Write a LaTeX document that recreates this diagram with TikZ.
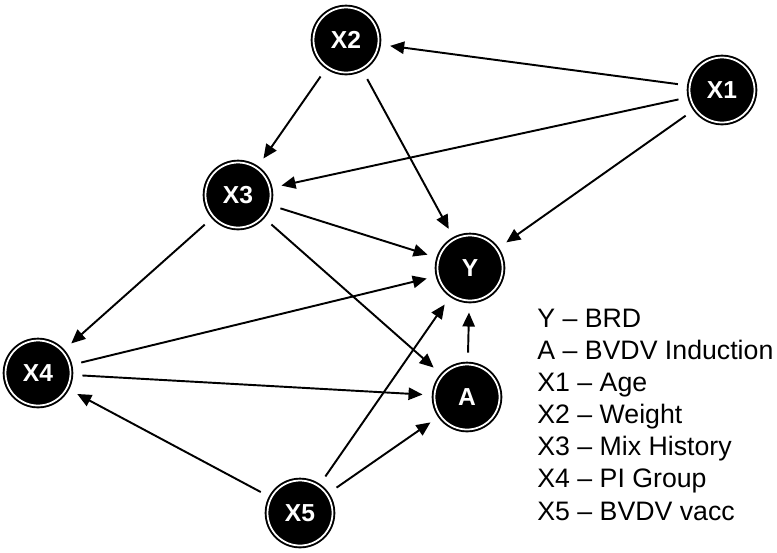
\documentclass[tikz,border=0pt]{standalone}
\usepackage{fontspec}
\setmainfont{Liberation Sans}
\usetikzlibrary{arrows.meta}

\tikzset{
	var/.style={circle, fill=black, draw=black, double=white,
		double distance=1pt, line width=1.1pt, minimum size=1.3cm,
		inner sep=0pt, outer sep=.24cm, text=white,
		font=\fontsize{14}{16}\selectfont\bfseries},
	edge/.style={-{Triangle[length=8pt,width=7pt]}, line width=1.1pt}
}

\begin{document}
\begin{tikzpicture}[x=.02cm, y=-.02cm]
		\useasboundingbox (0, 0) rectangle (777, 552);

		\node[var] (x1) at (722, 90) {X1};
		\node[var] (x2) at (346, 40) {X2};
		\node[var] (x3) at (238, 195) {X3};
		\node[var] (x4) at (38, 373) {X4};
		\node[var] (x5) at (300, 513) {X5};
		\node[var] (y) at (470, 268) {Y};
		\node[var] (a) at (467, 397) {A};

		\foreach \s/\t in {x1/x2, x1/x3, x1/y, x2/x3, x2/y, x3/y, x3/x4,
			x3/a, x4/y, x4/a, x5/x4, x5/y, x5/a, a/y}
		\draw[edge] (\s) -- (\t);

		\node[anchor=base west, align=left, inner sep=0pt,
			font=\fontsize{15.2}{18.3}\selectfont] (legend) at (537, 520)
			{Y -- BRD\\ A -- BVDV Induction\\ X1 -- Age\\ X2 -- Weight\\
			X3 -- Mix History\\ X4 -- PI Group\\ X5 -- BVDV vacc};
	\end{tikzpicture}
\end{document}
